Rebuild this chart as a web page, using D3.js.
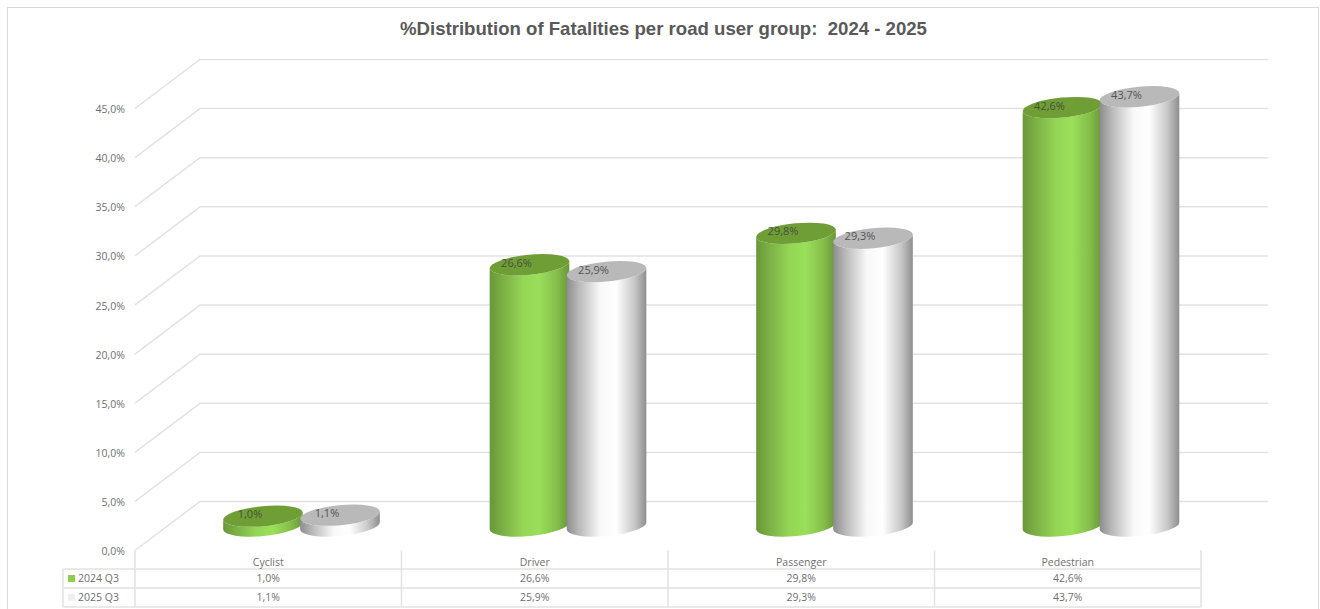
<!DOCTYPE html>
<html><head><meta charset="utf-8">
<script src="https://cdn.jsdelivr.net/npm/d3@7"></script>
<style>html,body{margin:0;padding:0;background:#fff}svg{display:block}</style>
</head><body><svg id="c" width="1320" height="609"></svg>
<script>
const categories = ["Cyclist","Driver","Passenger","Pedestrian"];
const seriesNames = ["2024 Q3","2025 Q3"];
const values2024 = [1.0,26.6,29.8,42.6];
const values2025 = [1.1,25.9,29.3,43.7];
const yTicks = [0,5,10,15,20,25,30,35,40,45];
const titleText = "%Distribution of Fatalities per road user group:  2024 - 2025";

const fmt = d => d.toFixed(1).replace(".", ",") + "%";
const svg = d3.select("#c");
const font = "'Open Sans','Noto Sans',sans-serif";
const textCol = "#707070", lineCol = "#e2e2e2";

const depthX = 65, depthY = -49, plotL = 135, plotR = 1201, wallR = 1268;
const y = d3.scaleLinear().domain([0,45]).range([550.5,108.5]);
const x = d3.scaleBand().domain(categories).range([plotL,plotR]);
const inner = d3.scaleBand().domain(seriesNames).range([89.5,243.5]);

// gradients
const defs = svg.append("defs");
function grad(id, stops){
  const g = defs.append("linearGradient").attr("id",id).attr("x1","0").attr("x2","1").attr("y1","0").attr("y2","0");
  stops.forEach(s=>g.append("stop").attr("offset",s[0]).attr("stop-color",s[1]));
}
grad("gGreen",[[0,"#689739"],[0.15,"#7aae44"],[0.42,"#94d655"],[0.62,"#9adf59"],[0.85,"#84bd4a"],[1,"#689539"]]);
grad("gWhite",[[0,"#8c8c8c"],[0.15,"#b8b8b8"],[0.42,"#f8f8f8"],[0.62,"#ffffff"],[0.85,"#c8c8c8"],[1,"#8e8e8e"]]);
const topFill = ["#6f9e37","#b9b9b9"], bodyFill = ["url(#gGreen)","url(#gWhite)"];

// frame
svg.append("rect").attr("x",7.5).attr("y",7.5).attr("width",1311).attr("height",610)
  .attr("fill","#fff").attr("stroke","#d9d9d9");

svg.append("text").attr("x",663.5).attr("y",35).attr("text-anchor","middle")
  .attr("font-family","'Liberation Sans',Arial,sans-serif").attr("font-weight","bold")
  .attr("font-size",18.6).attr("fill","#595959").attr("xml:space","preserve").style("white-space","pre").text(titleText);

// gridlines
const grid = svg.append("g").attr("fill","none").attr("stroke",lineCol).attr("stroke-width",1.5);
grid.selectAll("path").data(yTicks).join("path")
  .attr("d", d => `M${plotL},${y(d)}L${plotL+depthX},${y(d)+depthY}L${wallR},${y(d)+depthY}`);

// axis labels
const axis = svg.append("g").attr("transform",`translate(${plotL-10},0.7)`)
  .call(d3.axisLeft(y).tickValues(yTicks).tickSize(0).tickPadding(0).tickFormat(fmt));
axis.select(".domain").remove();
axis.selectAll("text").attr("font-family",font).attr("font-size",10.5).attr("fill",textCol);

// cylinders
const rx = 40, ry = 10, tilt = -5.5, th = tilt*Math.PI/180;
const baseY = y(0) - 24.5;
const topY = v => baseY - (y(0)-y(v));
const dx = rx*Math.cos(th), dy = rx*Math.sin(th);
function bar(g, cx, v, s){
  const t = topY(v);
  g.append("path").attr("fill",bodyFill[s]).attr("d",
    `M${cx-dx},${t-dy}L${cx-dx},${baseY-dy}A${rx},${ry} ${tilt} 0 0 ${cx+dx},${baseY+dy}L${cx+dx},${t+dy}A${rx},${ry} ${tilt} 0 1 ${cx-dx},${t-dy}Z`);
  g.append("ellipse").attr("cx",0).attr("cy",0).attr("rx",rx).attr("ry",ry).attr("fill",topFill[s])
    .attr("transform",`translate(${cx},${t}) rotate(${tilt})`);
}
const allSeries = [values2024, values2025];
const bars = svg.append("g");
categories.forEach((c,i)=>{
  allSeries.forEach((vals,s)=>{
    const cx = x(c) + inner(seriesNames[s]) + inner.bandwidth()/2;
    bar(bars, cx, vals[i], s);
  });
});
// data labels
const labels = svg.append("g").attr("font-family",font).attr("font-size",11).attr("text-anchor","middle");
categories.forEach((c,i)=>{
  allSeries.forEach((vals,s)=>{
    const cx = x(c) + inner(seriesNames[s]) + inner.bandwidth()/2;
    labels.append("text").attr("x",cx-13).attr("y",topY(vals[i])+2).attr("fill",s?"#555":"#47523c").text(fmt(vals[i]));
  });
});

// data table
const rowY = [569,588,607];
const tbl = svg.append("g").attr("stroke",lineCol).attr("stroke-width",1.5);
rowY.forEach(r=>tbl.append("line").attr("x1",63).attr("x2",plotR).attr("y1",r).attr("y2",r));
tbl.append("line").attr("x1",63).attr("x2",63).attr("y1",rowY[0]).attr("y2",rowY[2]);
[...categories.map(c=>x(c)),plotR].forEach(px=>tbl.append("line").attr("x1",px).attr("x2",px).attr("y1",y(0)).attr("y2",rowY[2]));
const tt = svg.append("g").attr("font-family",font).attr("font-size",10.5).attr("fill",textCol);
categories.forEach((c,i)=>{
  const mx = x(c)+x.bandwidth()/2;
  tt.append("text").attr("x",mx).attr("y",566).attr("text-anchor","middle").text(c);
  allSeries.forEach((vals,s)=>tt.append("text").attr("x",mx).attr("y",rowY[s]+13).attr("text-anchor","middle").text(fmt(vals[i])));
});
const swatch = ["#8ccf4d","#f0f0f0"];
seriesNames.forEach((n,s)=>{
  svg.append("rect").attr("x",68).attr("y",rowY[s]+6).attr("width",7).attr("height",7).attr("fill",swatch[s]);
  tt.append("text").attr("x",78).attr("y",rowY[s]+13).text(n);
});
</script></body></html>
